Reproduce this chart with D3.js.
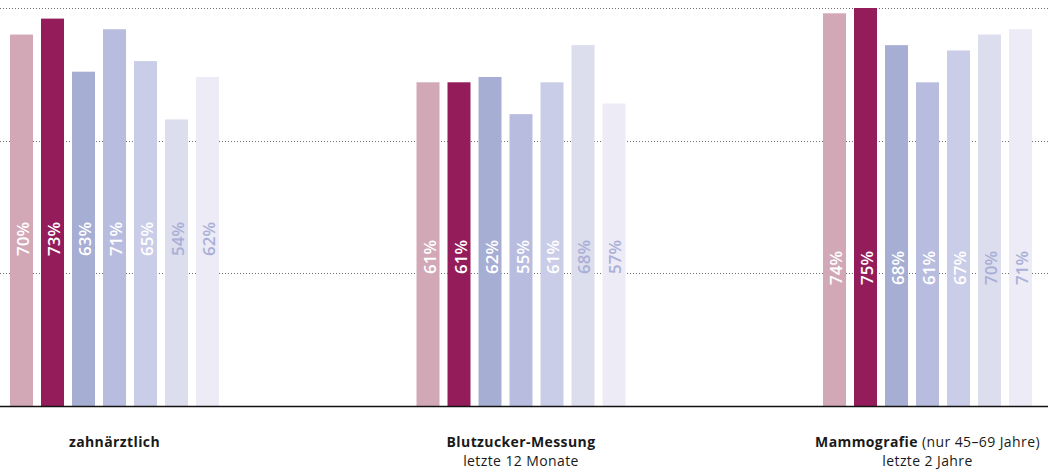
<!DOCTYPE html>
<html>
<head>
<meta charset="utf-8">
<script src="https://cdn.jsdelivr.net/npm/d3@7"></script>
<style>
  html, body { margin: 0; padding: 0; background: #fff; }
  svg { display: block; font-family: "Open Sans", "Noto Sans", sans-serif; }
</style>
</head>
<body>
<div id="chart"></div>
<script>
// ---- data ----
const categories = ["zahnärztlich", "Blutzucker-Messung", "Mammografie"];
const categoryNote = ["", "", " (nur 45–69 Jahre)"];
const categorySub = ["", "letzte 12 Monate", "letzte 2 Jahre"];
const seriesNames = ["S1", "S2", "S3", "S4", "S5", "S6", "S7"];
const series1 = [70, 61, 74];
const series2 = [73, 61, 75];
const series3 = [63, 62, 68];
const series4 = [71, 55, 61];
const series5 = [65, 61, 67];
const series6 = [54, 68, 70];
const series7 = [62, 57, 71];
const gridTicks = [25, 50, 75];

const allSeries = [series1, series2, series3, series4, series5, series6, series7];

// ---- style / layout ----
const W = 1048, H = 470;
const barColors = ["#d2a8b7", "#951c5b", "#a7aed4", "#b8bddf", "#cacde8", "#dcdded", "#ecebf6"];
const labelColors = ["#ffffff", "#ffffff", "#ffffff", "#ffffff", "#ffffff", "#a9afd7", "#aab0d8"];
const labelCenterY = [239, 257, 268];

const svg = d3.select("#chart").append("svg").attr("width", W).attr("height", H);

const x0 = d3.scaleBand().domain(categories).range([10, 1032]).paddingInner(0.4859).paddingOuter(0);
const x1 = d3.scaleBand().domain(seriesNames).range([0, x0.bandwidth()]).paddingInner(0.258).paddingOuter(0);
const y = d3.scaleLinear().domain([0, 75]).range([406, 8]);

// gridlines
svg.append("g").selectAll("line").data(gridTicks).join("line")
  .attr("x1", 0).attr("x2", W)
  .attr("y1", d => Math.round(y(d)) + 0.5).attr("y2", d => Math.round(y(d)) + 0.5)
  .attr("stroke", "#6f6f6f").attr("stroke-width", 1)
  .attr("stroke-dasharray", "1,2");

// bars
const groups = svg.append("g").selectAll("g").data(categories).join("g")
  .attr("transform", d => `translate(${x0(d)},0)`);

groups.each(function(cat, ci) {
  const g = d3.select(this);
  const rows = seriesNames.map((s, si) => ({ s, si, v: allSeries[si][ci] }));
  g.selectAll("rect").data(rows).join("rect")
    .attr("x", d => x1(d.s)).attr("width", x1.bandwidth())
    .attr("y", d => y(d.v)).attr("height", d => y(0) - y(d.v))
    .attr("fill", d => barColors[d.si]);
  g.selectAll("text").data(rows).join("text")
    .attr("transform", d => `translate(${x1(d.s) + x1.bandwidth() / 2 + 1},${labelCenterY[ci]}) rotate(-90)`)
    .attr("text-anchor", "middle")
    .attr("dominant-baseline", "central")
    .attr("font-size", 17)
    .attr("font-weight", 600)
    .attr("fill", d => labelColors[d.si])
    .text(d => d.v + "%");
});

// baseline
svg.append("line").attr("x1", 0).attr("x2", W).attr("y1", 406.5).attr("y2", 406.5)
  .attr("stroke", "#111").attr("stroke-width", 1.5);

// category labels
const catG = svg.append("g");
categories.forEach((c, i) => {
  const cx = x0(c) + x0.bandwidth() / 2;
  const t = catG.append("text").attr("x", cx).attr("y", 447).attr("text-anchor", "middle")
    .attr("font-size", 14).attr("letter-spacing", 0.4).attr("fill", "#1a1a1a");
  t.append("tspan").attr("font-weight", 700).text(c);
  if (categoryNote[i]) t.append("tspan").attr("font-weight", 400).text(categoryNote[i]);
  if (categorySub[i]) {
    catG.append("text").attr("x", cx).attr("y", 466).attr("text-anchor", "middle")
      .attr("font-size", 14).attr("letter-spacing", 0.4).attr("fill", "#1a1a1a").text(categorySub[i]);
  }
});
</script>
</body>
</html>
